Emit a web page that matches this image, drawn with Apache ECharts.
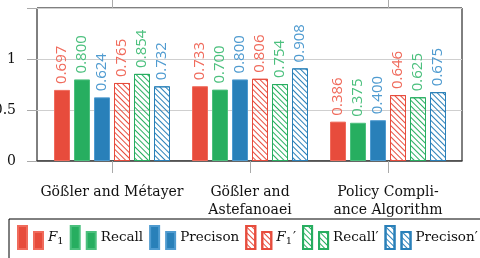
<!DOCTYPE html>
<html>
<head>
<meta charset="utf-8">
<script src="https://cdn.jsdelivr.net/npm/echarts@6/dist/echarts.min.js"></script>
<style>html,body{margin:0;padding:0;background:#fff}#c{width:480px;height:258px}</style>
</head>
<body>
<div id="c"></div>
<script>
var categories = ['Gößler and Métayer', 'Gößler and\nAstefanoaei', 'Policy Compli-\nance Algorithm'];
var f1 = [0.697, 0.733, 0.386];
var recall = [0.800, 0.700, 0.375];
var precision = [0.624, 0.800, 0.400];
var f1p = [0.765, 0.806, 0.646];
var recallp = [0.854, 0.754, 0.625];
var precisionp = [0.732, 0.908, 0.675];
var yTicks = [0, 0.5, 1];

var RED = '#e74c3c', GREEN = '#27ae60', BLUE = '#2980b9';
var SERIF = 'DejaVu Serif';
var ICON = 'path://M0,0H9V23H0Z M16,6H25V23H16Z';

function mk(name, data, color, hatched, light) {
  var s = {
    name: name, type: 'bar', data: data,
    xAxisIndex: 1, yAxisIndex: 1,
    barWidth: 16, barGap: '25%',
    label: {
      show: true, position: 'top', rotate: 90, align: 'left', verticalAlign: 'middle',
      distance: 6, color: light, fontFamily: 'Open Sans', fontSize: 15,
      formatter: function (p) { return p.value.toFixed(3); }
    }
  };
  if (hatched) {
    s.itemStyle = {
      color: 'rgba(255,255,255,0)', borderColor: color, borderWidth: 1,
      decal: { symbol: 'rect', symbolSize: 1, dashArrayX: [1, 0], dashArrayY: [1, 2.2],
               rotation: Math.PI / 4, color: color, backgroundColor: 'rgba(255,255,255,0)' }
    };
  } else {
    s.itemStyle = { color: color, borderColor: light, borderWidth: 1 };
  }
  return s;
}

var chart = echarts.init(document.getElementById('c'), null, { renderer: 'canvas' });
chart.setOption({
  animation: false,
  grid: [
    { left: 37, right: 18, top: 8, bottom: 97, containLabel: false, outerBoundsMode: 'none',
      show: true, borderColor: '#000', borderWidth: 1, backgroundColor: 'transparent' },
    { left: 43, right: 23, top: 8, bottom: 97, containLabel: false, outerBoundsMode: 'none' }
  ],
  xAxis: [
    { type: 'value', gridIndex: 0, min: 0, max: 1, axisLabel: { show: false }, axisTick: { show: false }, splitLine: { show: false },
      axisLine: { show: true, lineStyle: { color: '#444', width: 1.5 } } },
    { type: 'category', gridIndex: 1, data: categories, position: 'bottom',
      axisLine: { show: false },
      axisTick: { show: true, alignWithLabel: true, length: 12, lineStyle: { color: '#aaa' } },
      axisLabel: { margin: 22, fontFamily: SERIF, fontSize: 14, color: '#111', lineHeight: 18, interval: 0 } },
    { type: 'category', gridIndex: 1, data: categories, position: 'top',
      axisLine: { show: false },
      axisTick: { show: true, alignWithLabel: true, length: 8, lineStyle: { color: '#aaa' } },
      axisLabel: { show: false } }
  ],
  yAxis: [
    { type: 'value', gridIndex: 0, min: 0, max: 1.5, interval: 0.5,
      axisLine: { show: false },
      axisTick: { show: true, length: 10, lineStyle: { color: '#aaa' } },
      splitLine: { show: true, lineStyle: { color: '#cfcfcf' } },
      axisLabel: { margin: 21, fontFamily: SERIF, fontSize: 14, color: '#111',
        formatter: function (v) { return yTicks.indexOf(v) >= 0 ? String(v) : ''; } } },
    { type: 'value', gridIndex: 1, min: 0, max: 1.5, interval: 0.5,
      axisLine: { show: false }, axisTick: { show: false }, splitLine: { show: false }, axisLabel: { show: false } }
  ],
  legend: {
    left: 9, top: 219, width: 700, orient: 'horizontal',
    padding: [6, 8, 20, 8],
    borderColor: '#000', borderWidth: 1,
    itemWidth: 25, itemHeight: 23, itemGap: 6,
    icon: ICON,
    textStyle: { fontFamily: SERIF, fontSize: 13.5, color: '#111',
      rich: {
        i: { fontFamily: SERIF, fontStyle: 'italic', fontSize: 13.5, color: '#111' },
        s: { fontFamily: SERIF, fontSize: 10, color: '#111', padding: [7, 0, 0, 0] },
        n: { fontFamily: SERIF, fontSize: 13.5, color: '#111', padding: [0, 3, 0, 1] }
      } },
    formatter: function (name) {
      if (name === 'F1') return '{i|F}{s|1}';
      if (name === "F1'") return '{i|F}{s|1}{n|′}';
      return name.replace("'", '′');
    }
  },
  series: [
    mk('F1', f1, RED, false, '#f06b5c'),
    mk('Recall', recall, GREEN, false, '#4cc07e'),
    mk('Precison', precision, BLUE, false, '#4f9bd0'),
    mk("F1'", f1p, RED, true, '#f06b5c'),
    mk("Recall'", recallp, GREEN, true, '#4cc07e'),
    mk("Precison'", precisionp, BLUE, true, '#4f9bd0')
  ]
});
</script>
</body>
</html>
